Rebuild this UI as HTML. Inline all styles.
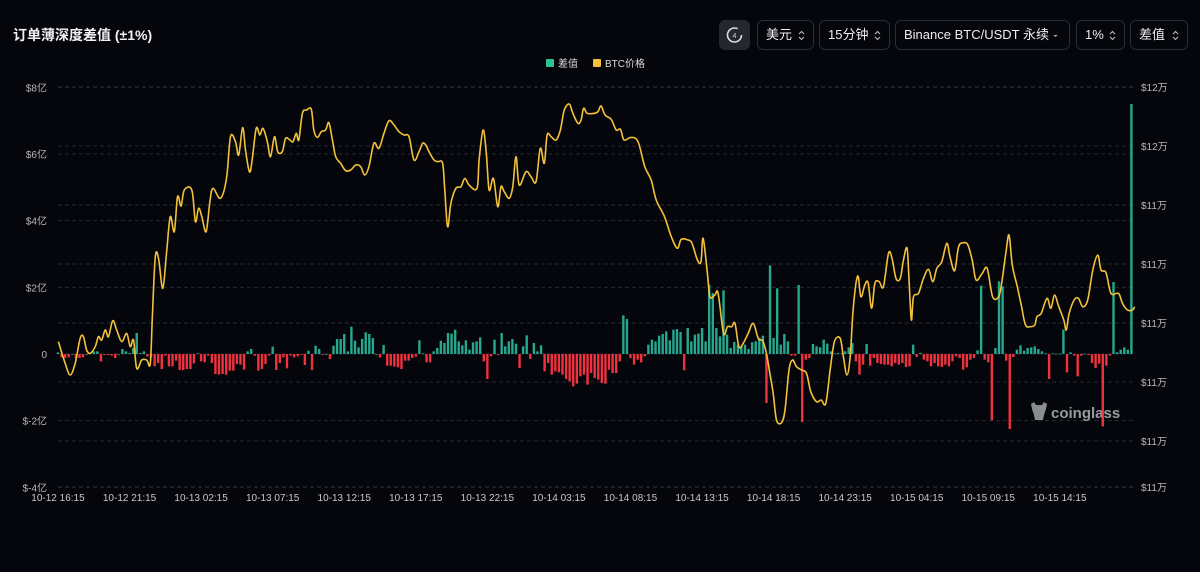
<!DOCTYPE html>
<html><head><meta charset="utf-8">
<style>
html,body{margin:0;padding:0;background:#05060b;width:1200px;height:572px;overflow:hidden;font-family:"Liberation Sans","Noto Sans CJK SC",sans-serif;color:#e8e8e8}
.title{position:absolute;left:13px;top:25px;font-size:14px;font-weight:bold;color:#f2f2f2}
.ctl{position:absolute;top:20px;height:28px;border:1px solid #2a2d34;border-radius:6px;font-size:13px;line-height:28px;color:#eee;box-sizing:content-box;padding-left:8px}
.ctl .ar{position:absolute;right:8px;top:9px;width:7px;height:11px}
.iconbtn{position:absolute;left:719px;top:20px;width:31px;height:30px;background:#24272d;border-radius:6px}
svg{position:absolute;left:0;top:0}
</style></head>
<body>
<div class="title">订单薄深度差值 (±1%)</div>
<div class="iconbtn">
<svg width="31" height="30" style="position:absolute;left:0;top:0"><circle cx="15.5" cy="15" r="7" fill="none" stroke="#ddd" stroke-width="1.6" stroke-dasharray="36 8"/><text x="15.5" y="18" font-size="7" fill="#ddd" text-anchor="middle">4</text></svg>
</div>
<div class="ctl" style="left:757px;width:47px">美元<svg class="ar" viewBox="0 0 7 11" style="left:auto"><path d="M1 4 L3.5 1.5 L6 4 M1 7 L3.5 9.5 L6 7" fill="none" stroke="#bbb" stroke-width="1.1"/></svg></div>
<div class="ctl" style="left:819px;width:61px">15分钟<svg class="ar" viewBox="0 0 7 11" style="left:auto"><path d="M1 4 L3.5 1.5 L6 4 M1 7 L3.5 9.5 L6 7" fill="none" stroke="#bbb" stroke-width="1.1"/></svg></div>
<div class="ctl" style="left:895px;width:165px">Binance BTC/USDT 永续<svg class="ar" viewBox="0 0 7 11" style="left:auto;right:10px"><path d="M1.5 5 L5.5 5 L3.5 7 Z" fill="#bbb"/></svg></div>
<div class="ctl" style="left:1076px;width:39px">1%<svg class="ar" viewBox="0 0 7 11" style="left:auto"><path d="M1 4 L3.5 1.5 L6 4 M1 7 L3.5 9.5 L6 7" fill="none" stroke="#bbb" stroke-width="1.1"/></svg></div>
<div class="ctl" style="left:1130px;width:48px">差值<svg class="ar" viewBox="0 0 7 11" style="left:auto"><path d="M1 4 L3.5 1.5 L6 4 M1 7 L3.5 9.5 L6 7" fill="none" stroke="#bbb" stroke-width="1.1"/></svg></div>

<svg id="chart" width="1200" height="572" style="pointer-events:none"></svg>

<script>
const diffValues=[0.05,-0.1,-0.12,-0.1,0,-0.12,-0.12,-0.1,0,0.03,0.08,0.08,-0.22,-0.03,-0.03,-0.05,-0.12,0,0.15,0.08,0.03,0.18,0.63,0.03,0.08,-0.08,-0.1,-0.37,-0.27,-0.45,-0.05,-0.37,-0.37,-0.2,-0.48,-0.48,-0.45,-0.45,-0.28,0.02,-0.22,-0.25,-0.05,-0.27,-0.6,-0.62,-0.6,-0.62,-0.5,-0.5,-0.3,-0.32,-0.47,0.08,0.15,-0.05,-0.5,-0.45,-0.3,-0.05,0.22,-0.48,-0.27,-0.1,-0.43,-0.05,-0.1,-0.07,-0.03,-0.33,0.1,-0.48,0.25,0.15,-0.03,0,-0.15,0.25,0.45,0.45,0.6,0.08,0.82,0.4,0.2,0.45,0.65,0.6,0.48,0,-0.1,0.27,-0.35,-0.35,-0.38,-0.4,-0.45,-0.2,-0.2,
-0.12,-0.08,0.41,0.02,-0.25,-0.25,0.08,0.18,0.4,0.33,0.63,0.61,0.73,0.38,0.26,0.41,0.13,0.35,0.38,0.5,-0.22,-0.75,-0.07,0.43,-0.03,0.63,0.23,0.38,0.45,0.31,-0.42,0.23,0.56,-0.15,0.33,0.08,0.26,-0.52,-0.27,-0.62,-0.52,-0.55,-0.62,-0.75,-0.82,-0.97,-0.89,-0.67,-0.62,-0.92,-0.57,-0.72,-0.77,-0.87,-0.89,-0.47,-0.57,-0.57,-0.22,1.16,1.05,-0.12,-0.32,-0.17,-0.25,-0.07,0.28,0.43,0.38,0.55,0.6,0.68,0.41,0.73,0.75,0.66,-0.49,0.78,0.38,0.58,0.61,0.78,0.38,2.08,1.83,0.78,0.53,1.91,0.58,0.18,0.36,0.28,0.23,0.28,0.15,0.35,0.38,0.48,
0.55,-1.47,2.66,0.48,1.97,0.28,0.6,0.38,-0.05,-0.05,2.07,-2.04,-0.17,-0.12,0.3,0.23,0.2,0.43,0.31,0.08,0.02,0.03,0.02,0.08,0.2,0.33,-0.22,-0.62,-0.32,0.3,-0.35,-0.12,-0.27,-0.3,-0.32,-0.32,-0.37,-0.27,-0.32,-0.27,-0.39,-0.37,0.28,-0.09,0.03,-0.17,-0.22,-0.37,-0.27,-0.37,-0.39,-0.32,-0.37,-0.22,-0.07,-0.12,-0.47,-0.4,-0.17,-0.12,0.11,2.05,-0.17,-0.25,-1.99,0.18,2.18,2.03,-0.2,-2.25,-0.09,0.13,0.26,0.1,0.18,0.2,0.23,0.15,0.08,0.02,-0.75,0.02,0.01,0.01,0.73,-0.55,0.05,-0.05,-0.67,-0.05,0.01,-0.03,-0.27,-0.42,-0.29,-2.17,-0.35,-0.05,2.16,0.05,0.13,0.2,0.13,7.5];

const priceTimes=[0.1,2.0,3.4,4.8,6.2,7.1,8.0,9.0,10.4,11.3,12.2,13.2,14.1,15.3,16.4,17.8,19.2,20.2,21.1,22.0,23.4,24.8,25.8,26.4,27.2,28.1,29.3,30.4,31.4,32.5,33.4,34.4,35.3,37.4,38.4,39.3,40.2,41.4,42.4,43.3,45.4,47.1,48.2,49.6,50.5,51.6,52.4,53.5,54.2,55.4,56.4,57.3,58.5,59.4,60.5,61.4,62.7,63.6,64.8,65.7,66.6,67.3,68.3,69.5,70.8,71.5,72.5,73.6,74.8,75.7,76.7,77.6,79.0,80.4,81.8,83.2,84.6,85.7,86.9,88.3,89.7,91.1,92.5,93.9,95.3,96.7,98.1,
99.5,100.9,101.9,102.8,103.7,105.1,106.1,107.5,108.1,108.9,109.8,111.2,112.6,113.7,114.9,117.1,117.7,118.8,119.7,120.5,121.7,122.9,123.8,124.7,126.1,127.1,128.0,128.9,130.8,132.2,133.6,134.8,135.9,136.7,137.8,139.2,140.4,141.5,142.9,143.9,145.3,146.2,146.9,147.9,149.9,150.9,151.8,152.9,154.6,156.0,157.2,158.2,160.2,162.1,164.0,165.8,167.2,169.5,171.4,173.1,174.2,176.1,177.2,178.7,179.7,180.3,181.5,182.2,183.6,184.5,186.0,187.1,188.3,189.2,190.3,191.5,192.9,194.3,195.7,196.7,
197.1,198.0,198.8,199.9,200.8,202.2,203.2,204.3,205.3,206.4,207.8,209.2,210.4,212.0,213.3,214.6,215.8,217.0,218.6,219.5,220.5,221.4,222.3,223.5,224.4,225.5,226.4,227.4,228.3,229.5,230.7,232.1,233.1,234.2,235.4,236.3,237.3,237.9,238.5,239.1,240.5,241.9,243.3,244.5,245.6,247.0,248.4,249.3,250.6,251.7,253.1,254.3,255.5,256.6,258.3,259.7,261.2,262.9,263.8,264.9,265.8,266.7,268.1,269.3,270.4,271.8,273.0,273.6,274.8,276.4,277.5,278.5,279.7,281.1,281.8,282.6,284.0,285.2,286.4,287.8,289.2,290.6,291.5,292.9,294.3,296.4,297.5,298.9,300.3,300.9];

const priceValues=[115367,114632,114237,114632,115480,115536,115084,114971,115197,115536,115423,115762,115536,116078,115762,115367,115649,115197,115423,114462,114745,114745,114632,116327,118248,118192,117175,118474,119607,119096,120282,119966,120508,120508,119437,119887,119607,119096,120056,120565,120226,120903,122316,122147,121695,122621,121864,121130,121469,122598,122372,122598,122147,121638,122316,121808,121808,122260,122203,122147,122429,122203,123107,123220,123243,122542,122293,122485,122542,122791,122203,121638,121412,121164,121186,121356,121299,121016,121299,122090,121921,122429,122858,122712,122485,122372,122316,
121525,121808,122090,122034,121808,121525,121469,121412,120508,119265,120056,120565,120621,120903,120678,120565,121525,122542,121751,120508,120903,119943,120621,120452,120226,120621,121638,120678,121130,120960,120791,121921,121412,122372,122316,122203,122542,123220,123423,123107,122768,122881,123277,123107,123107,123163,123356,123050,122904,122542,122565,122203,122293,122147,121299,120847,120169,119604,118926,118531,118836,118813,118700,118135,118078,118870,117683,116892,116948,117005,115649,115875,115875,115988,115197,115310,115649,115988,115480,115423,
115367,114971,114406,113615,112711,112621,113050,114406,114745,114519,114406,114293,113672,113333,113389,113276,114406,115367,115480,114858,114237,114858,116553,117593,116892,117288,117367,116497,117344,117400,117231,118361,118191,117514,117514,118135,118531,117344,116101,116892,117005,117514,117819,117400,117852,118078,118700,118248,117774,118587,118723,118644,118135,117457,117683,117852,116892,116892,117400,118361,118983,117966,117231,116553,115932,115875,115932,116214,116327,116836,116497,116948,116553,116101,115762,116327,116779,116836,116553,116779,117796,118305,117796,117706,117005,117005,116666,116440,116440,116553];

const leftTicks=[8,6,4,2,0,-2,-4];
const leftTickLabels=["$8亿","$6亿","$4亿","$2亿","0","$-2亿","$-4亿"];
const rightTicks=[124000,122000,120000,118000,116000,114000,112000,110440];
const rightTickLabels=["$12万","$12万","$11万","$11万","$11万","$11万","$11万","$11万"];
const xTickBars=[0,20,40,60,80,100,120,140,160,180,200,220,240,260,280];
const xTickLabels=["10-12 16:15","10-12 21:15","10-13 02:15","10-13 07:15","10-13 12:15","10-13 17:15","10-13 22:15","10-14 03:15","10-14 08:15","10-14 13:15","10-14 18:15","10-14 23:15","10-15 04:15","10-15 09:15","10-15 14:15"];

const NS="http://www.w3.org/2000/svg";
const svg=document.getElementById('chart');
const X0=58,STEP=3.578;
function xS(i){return X0+i*STEP;}
function yL(v){return 354-v*33.33;}
function yR(p){return 87+(124000-p)/2000*59;}
function mk(tag,attrs,parent){const e=document.createElementNS(NS,tag);for(const k in attrs)e.setAttribute(k,attrs[k]);(parent||svg).appendChild(e);return e;}

const grid=mk('g',{});


leftTicks.forEach((v,k)=>{
  const y=yL(v);
  const l=mk('line',{x1:58,x2:1133,y1:y,y2:y,stroke:'#262930','stroke-dasharray':'4 3','stroke-width':1},grid);
  
  
  const t=mk('text',{x:47,y:y+4,'font-size':10,fill:'#b8b8b8','text-anchor':'end'});
  t.textContent=leftTickLabels[k];
  
  
});
rightTicks.forEach((p,k)=>{
  const y=yR(p);
  const l=mk('line',{x1:58,x2:1133,y1:y,y2:y,stroke:'#262930','stroke-dasharray':'4 3','stroke-width':1},grid);
  
  
  const t=mk('text',{x:1141,y:y+4,'font-size':10,fill:'#b8b8b8'});
  t.textContent=rightTickLabels[k];
  
  
});
xTickBars.forEach((b,k)=>{
  const t=mk('text',{x:xS(b),y:501,'font-size':10,fill:'#c8c8c8','text-anchor':'middle'});
  t.textContent=xTickLabels[k];
  
  
});

// watermark
const wm=mk('g',{});


mk('path',{d:'M1031 404 l3 -2 l2 3 h6 l2 -3 l3 2 l-1 5 l-2 6 l-1 5 h-8 l-1 -5 l-2 -6 z',fill:'#8a8c90'},wm);
const wt=mk('text',{x:1051,y:418,'font-size':15,fill:'#9a9ca0','font-weight':'bold'},wm);
wt.textContent='coinglass';

// bars
const bars=mk('g',{});


diffValues.forEach((v,i)=>{
  const y0=yL(0),y1=yL(v);
  const r=mk('rect',{x:xS(i)-1.2,y:Math.min(y0,y1),width:2.4,height:Math.max(0.8,Math.abs(y1-y0)),fill:v>=0?'#26a88e':'#f0323f'},bars);
  
  
});

// price line
const pts=priceTimes.map((t,k)=>[xS(t),yR(priceValues[k])]);
let d='M'+pts[0][0].toFixed(1)+' '+pts[0][1].toFixed(1);
for(let k=0;k<pts.length-1;k++){
  const p0=pts[Math.max(0,k-1)],p1=pts[k],p2=pts[k+1],p3=pts[Math.min(pts.length-1,k+2)];
  const c1x=p1[0]+(p2[0]-p0[0])/6,c1y=p1[1]+(p2[1]-p0[1])/6;
  const c2x=p2[0]-(p3[0]-p1[0])/6,c2y=p2[1]-(p3[1]-p1[1])/6;
  d+=' C'+c1x.toFixed(1)+' '+c1y.toFixed(1)+' '+c2x.toFixed(1)+' '+c2y.toFixed(1)+' '+p2[0].toFixed(1)+' '+p2[1].toFixed(1);
}
const line=mk('path',{d:d,fill:'none',stroke:'#f3c13a','stroke-width':1.6,'stroke-linejoin':'round'});



// legend
const lg=mk('g',{});


const g1=mk('g',{},lg);


mk('rect',{x:546,y:59,width:8,height:8,fill:'#2ec28f',rx:1},g1);
const t1=mk('text',{x:558,y:67,'font-size':10,fill:'#ddd'},g1);t1.textContent='差值';
const g2=mk('g',{},lg);


mk('rect',{x:593,y:59,width:8,height:8,fill:'#f3c13a',rx:1},g2);
const t2=mk('text',{x:605,y:67,'font-size':10,fill:'#ddd'},g2);t2.textContent='BTC价格';
</script>
</body></html>
